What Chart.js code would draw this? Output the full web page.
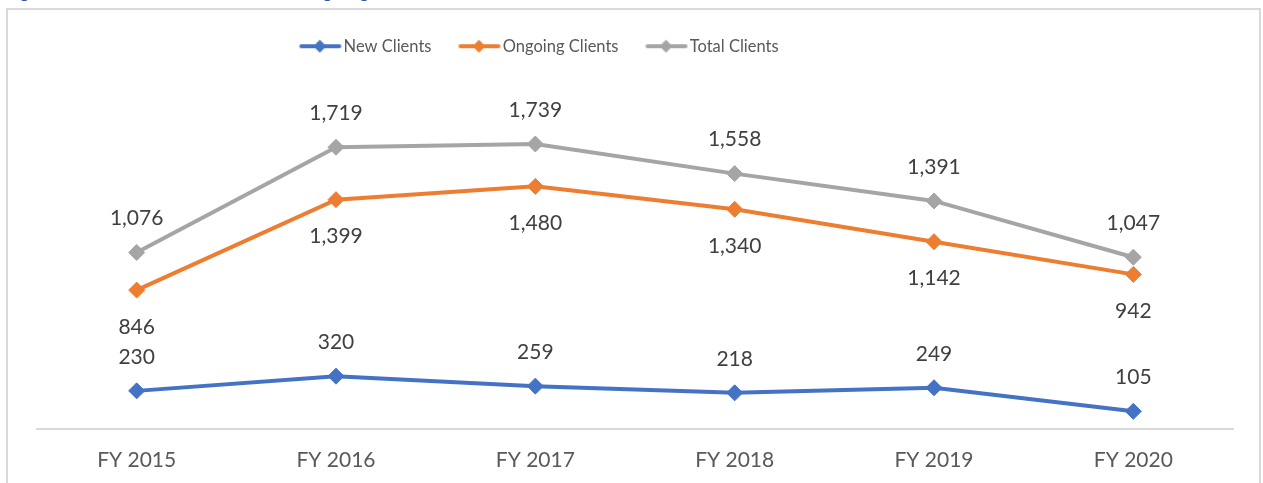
<!DOCTYPE html>
<html>
<head>
<meta charset="utf-8">
<title>Clients by fiscal year</title>
<script src="https://cdn.jsdelivr.net/npm/chart.js@4.4.1/dist/chart.umd.min.js"></script>
<style>
  html, body { margin: 0; padding: 0; background: #fff; overflow: hidden; }
  #wrap { position: relative; width: 1263px; height: 483px; overflow: hidden; }
  #caption {
    position: absolute; left: 5px; top: -21px;
    font: italic 21px Lato, sans-serif; line-height: 20px;
    color: #2F5496; white-space: nowrap;
  }
  canvas { display: block; }
</style>
</head>
<body>
<div id="wrap">
  <div id="caption">Figure 2: Number of New Clients, Ongoing Clients and Total Clients, FY 2015 to FY 2020</div>
  <canvas id="clientsChart" width="1263" height="483"></canvas>
</div>
<script>
// fiscal years and client counts
const years = ['FY 2015', 'FY 2016', 'FY 2017', 'FY 2018', 'FY 2019', 'FY 2020'];
const newClients = [230, 320, 259, 218, 249, 105];
const ongoingClients = [846, 1399, 1480, 1340, 1142, 942];
const totalClients = [1076, 1719, 1739, 1558, 1391, 1047];

const colors = {
  newClients: '#4472C4',
  ongoing: '#ED7D31',
  total: '#A5A5A5'
};

// legend swatch: short thick line with a diamond in the middle
function legendIcon(color) {
  const c = document.createElement('canvas');
  c.width = 84;
  c.height = 20;
  const ctx = c.getContext('2d');
  ctx.strokeStyle = color;
  ctx.lineWidth = 4;
  ctx.lineCap = 'round';
  ctx.beginPath();
  ctx.moveTo(26, 10);
  ctx.lineTo(64, 10);
  ctx.stroke();
  ctx.fillStyle = color;
  ctx.beginPath();
  ctx.moveTo(44.5, 3.5);
  ctx.lineTo(51, 10);
  ctx.lineTo(44.5, 16.5);
  ctx.lineTo(38, 10);
  ctx.closePath();
  ctx.fill();
  return c;
}

// value labels above / below each point
const pointLabels = {
  id: 'pointLabels',
  afterDatasetsDraw(chart) {
    const ctx = chart.ctx;
    ctx.save();
    ctx.font = '21px Lato';
    ctx.fillStyle = '#404040';
    ctx.textAlign = 'center';
    ctx.textBaseline = 'middle';
    chart.data.datasets.forEach((ds, i) => {
      const meta = chart.getDatasetMeta(i);
      meta.data.forEach((pt, j) => {
        const dy = ds.labelSide === 'below' ? 37 : -34;
        ctx.fillText(ds.data[j].toLocaleString('en-US'), pt.x, pt.y + dy);
      });
    });
    ctx.restore();
  }
};

// light frame round the chart
const frame = {
  id: 'frame',
  beforeDraw(chart) {
    const ctx = chart.ctx;
    ctx.save();
    ctx.strokeStyle = '#D9D9D9';
    ctx.lineWidth = 2;
    ctx.strokeRect(7, 9, 1253, 520);
    ctx.restore();
  }
};

// legend sits left of centre
const legendShift = {
  id: 'legendShift',
  afterLayout(chart) {
    chart.legend.left -= 96;
    chart.legend.right -= 96;
  }
};

function makeDataset(label, data, color, labelSide) {
  return {
    label: label,
    data: data,
    borderColor: color,
    backgroundColor: color,
    borderWidth: 4,
    pointStyle: 'rectRot',
    pointRadius: 8,
    pointBorderWidth: 1,
    pointHoverRadius: 8,
    tension: 0,
    fill: false,
    labelSide: labelSide
  };
}

function drawChart() {
  Chart.defaults.font.family = 'Lato';
  const ctx = document.getElementById('clientsChart').getContext('2d');
  new Chart(ctx, {
    type: 'line',
    data: {
      labels: years,
      datasets: [
        makeDataset('New Clients', newClients, colors.newClients, 'above'),
        makeDataset('Ongoing Clients', ongoingClients, colors.ongoing, 'below'),
        makeDataset('Total Clients', totalClients, colors.total, 'above')
      ]
    },
    options: {
      responsive: false,
      animation: false,
      layout: { padding: { left: 37, right: 30, top: 11, bottom: 10 } },
      plugins: {
        tooltip: { enabled: false },
        legend: {
          position: 'top',
          labels: {
            usePointStyle: true,
            pointStyleWidth: 36,
            padding: 27,
            color: '#595959',
            font: { size: 16.5 },
            generateLabels(chart) {
              return chart.data.datasets.map((ds, i) => ({
                text: ds.label,
                pointStyle: legendIcon(ds.borderColor),
                fillStyle: ds.borderColor,
                strokeStyle: ds.borderColor,
                lineWidth: 0,
                fontColor: '#595959',
                hidden: false,
                datasetIndex: i
              }));
            }
          }
        }
      },
      scales: {
        x: {
          offset: true,
          grid: { display: false, drawTicks: false },
          border: { display: true, color: '#D9D9D9', width: 2 },
          ticks: { color: '#595959', font: { size: 21 }, padding: 19, maxRotation: 0, autoSkip: false },
          afterFit(axis) {
            axis.height = 44.5;
          }
        },
        y: {
          display: false,
          min: 0,
          max: 2225
        }
      }
    },
    plugins: [frame, legendShift, pointLabels]
  });
}

document.fonts.load('21px Lato').then(drawChart, drawChart);
</script>
</body>
</html>
